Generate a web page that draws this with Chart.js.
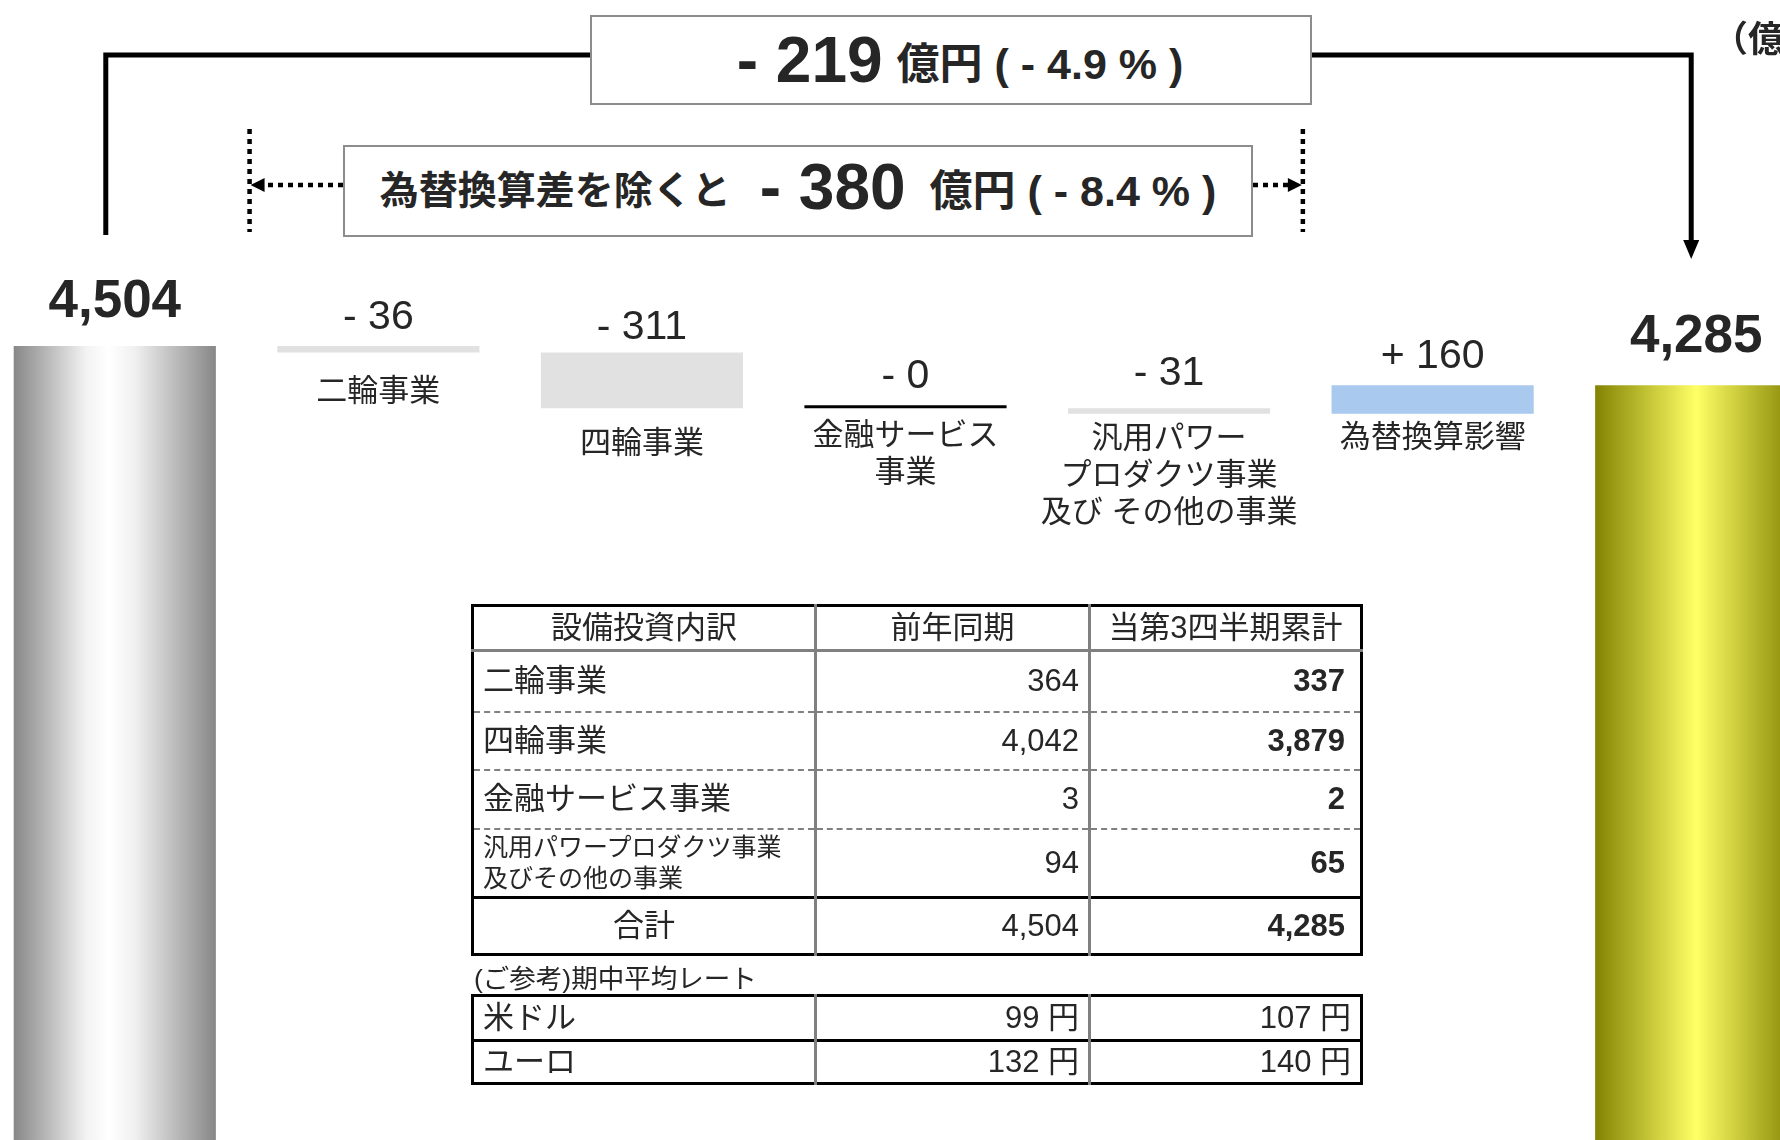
<!DOCTYPE html>
<html lang="ja">
<head>
<meta charset="utf-8">
<title>設備投資</title>
<script src="https://cdn.jsdelivr.net/npm/chart.js@4.4.1/dist/chart.umd.min.js"></script>
<style>
  html, body { margin: 0; padding: 0; background: #fff; width: 1780px; height: 1140px; overflow: hidden; }
  body { position: relative; font-family: "Liberation Sans", "Noto Sans CJK JP", sans-serif; color: #262626; }
  #wrap { position: absolute; left: -17px; top: 0; width: 1845px; height: 1140px; }
  .box { position: absolute; background: #fff; border: 2px solid #8c8c8c; box-sizing: border-box;
         display: flex; align-items: center; justify-content: center; font-weight: bold; white-space: nowrap; }
  .box .num { font-size: 64px; }
  .box .unit { font-size: 43px; }
  .box .lead { font-size: 39px; margin-right: 29px; }
  #box1 { left: 590px; top: 15px; width: 722px; height: 90px; padding-left: 18px; }
  #box1 .unit { margin-left: 14px; }
  #box2 { left: 343px; top: 145px; width: 910px; height: 92px; padding-bottom: 8px; }
  #box2 .unit { margin-left: 24px; }
  #unitNote { position: absolute; left: 1712px; top: 10px; font-size: 36px; font-weight: bold; white-space: nowrap; }
  table { position: absolute; border-collapse: collapse; font-size: 31px; line-height: 1.15; table-layout: fixed; }
  td { padding: 0 9px; white-space: nowrap; vertical-align: middle; overflow: hidden; }
  #capex { left: 471px; top: 604px; width: 889px; border: 3px solid #000; }
  #capex tr.head td { text-align: center; border-bottom: 3px solid #808080; }
  #capex tr.row td { border-bottom: 2px dashed #808080; }
  #capex tr.total td { border-top: 3px solid #000; }
  #capex td + td, #rates td + td { border-left: 3px solid #808080; text-align: right; }
  #capex tr.head td + td { text-align: center; }
  #capex td.small { font-size: 25px; line-height: 31px; }
  #capex td.center { text-align: center; }
  #capex td.cur { font-weight: bold; padding-right: 15px; }
  #rateNote { position: absolute; left: 474px; top: 957px; font-size: 26.5px; white-space: nowrap; }
  #rates { left: 471px; top: 994px; width: 889px; border: 3px solid #000; }
  #rates tr + tr td { border-top: 3px solid #000; }
</style>
</head>
<body>
<div id="wrap"><canvas id="waterfall" width="1845" height="1140"></canvas></div>
<div class="box" id="box1"></div>
<div class="box" id="box2"></div>
<div id="unitNote">（億円）</div>
<div id="rateNote">(ご参考)期中平均レート</div>
<table id="capex"></table>
<table id="rates"></table>
<script>
// waterfall data (億円)
var categories = ['前年同期', '二輪事業', '四輪事業', '金融サービス\n事業', '汎用パワー\nプロダクツ事業\n及び その他の事業', '為替換算影響', '当第3四半期累計'];
var startTotal = 4504;
var endTotal = 4285;
var deltaValues = [-36, -311, -0, -31, 160];
var deltaColors = ['#e1e1e1', '#e1e1e1', '#000000', '#e1e1e1', '#a9c9ee'];
// label spacing from the bar edges (px)
var valueGaps = [17, 13, 17, 23, 17];
var nameGaps = [40, 36, 28, 26, 25];

// headline numbers
var diffTotal = -219;
var diffPct = -4.9;
var diffExFx = -380;
var diffExFxPct = -8.4;

// capex table
var tableHeader = ['設備投資内訳', '前年同期', '当第3四半期累計'];
var segments = ['二輪事業', '四輪事業', '金融サービス事業', '汎用パワープロダクツ事業\n及びその他の事業'];
var prevCapex = [364, 4042, 3, 94];
var currCapex = [337, 3879, 2, 65];
var capexTotals = [4504, 4285];
var rowHeights = [61, 58, 59, 69];

// average rates
var currencies = ['米ドル', 'ユーロ'];
var prevRates = [99, 132];
var currRates = [107, 140];

var barPct = 0.767;
var SHIFT = 17; // canvas is shifted left by this much
var prevGradient = [[0, '#878787'], [0.36, '#f3f3f3'], [0.47, '#ffffff'], [0.6, '#f0f0f0'], [1, '#878787']];
var currGradient = [[0, '#838303'], [0.5, '#ffff66'], [1, '#838303']];

function fmt(n) { return n.toLocaleString('en-US'); }
function signed(n) {
    return (n > 0 ? '+ ' : '- ') + Math.abs(n);
}

// floating spans for the waterfall
var spans = [[0, startTotal]];
var run = startTotal;
deltaValues.forEach(function(d) {
    spans.push([Math.min(run, run + d), Math.max(run, run + d)]);
    run += d;
});
spans.push([0, endTotal]);

function barColor(ctx) {
    var i = ctx.dataIndex;
    if (i > 0 && i < categories.length - 1) return deltaColors[i - 1];
    var chart = ctx.chart;
    if (!chart.chartArea) return '#999';
    var xs = chart.scales.x;
    var cx = xs.getPixelForValue(i);
    var half = xs.width / categories.length * barPct / 2;
    var g = chart.ctx.createLinearGradient(cx - half, 0, cx + half, 0);
    (i === 0 ? prevGradient : currGradient).forEach(function(s) { g.addColorStop(s[0], s[1]); });
    return g;
}

var labelPlugin = {
    id: 'waterfallLabels',
    afterDatasetsDraw: function(chart) {
        var c = chart.ctx;
        var bars = chart.getDatasetMeta(0).data;
        c.save();
        c.fillStyle = '#262626';
        c.textAlign = 'center';
        c.textBaseline = 'alphabetic';
        bars.forEach(function(bar, i) {
            var top = Math.min(bar.y, bar.base);
            var bottom = Math.max(bar.y, bar.base);
            if (i === 0 || i === bars.length - 1) {
                c.font = 'bold 53px "Liberation Sans", sans-serif';
                c.fillText(fmt(i === 0 ? startTotal : endTotal), bar.x, top - (i === 0 ? 29 : 33));
                return;
            }
            c.font = '41px "Liberation Sans", sans-serif';
            c.fillText(signed(deltaValues[i - 1]), bar.x, top - valueGaps[i - 1]);
            c.font = '31px "Liberation Sans", "Noto Sans CJK JP", sans-serif';
            c.textBaseline = 'middle';
            categories[i].split('\n').forEach(function(line, k) {
                c.fillText(line, bar.x, bottom + nameGaps[i - 1] + k * 37);
            });
            c.textBaseline = 'alphabetic';
        });
        c.restore();
    }
};

var bracketPlugin = {
    id: 'brackets',
    beforeDatasetsDraw: function(chart) {
        var c = chart.ctx;
        var bars = chart.getDatasetMeta(0).data;
        var n = bars.length;
        var lx = bars[0].x - 9, rx = bars[n - 1].x - 5;
        c.save();
        c.strokeStyle = '#000';
        c.fillStyle = '#000';
        // total change bracket
        c.lineWidth = 5;
        c.lineJoin = 'miter';
        c.beginPath();
        c.moveTo(lx, 235);
        c.lineTo(lx, 55);
        c.lineTo(rx, 55);
        c.lineTo(rx, 242);
        c.stroke();
        c.beginPath();
        c.moveTo(rx - 8, 240);
        c.lineTo(rx + 8, 240);
        c.lineTo(rx, 259);
        c.closePath();
        c.fill();
        // dotted bracket without FX translation
        var dl = (bars[0].x + bars[1].x) / 2 + 3;
        var dr = (bars[4].x + bars[5].x) / 2 + 2;
        c.lineWidth = 4.5;
        c.setLineDash([5, 5]);
        c.beginPath();
        c.moveTo(dl, 129); c.lineTo(dl, 232);
        c.moveTo(dr, 129); c.lineTo(dr, 232);
        c.moveTo(343 + SHIFT, 185); c.lineTo(dl + 12, 185);
        c.moveTo(1253 + SHIFT, 185); c.lineTo(dr - 12, 185);
        c.stroke();
        c.setLineDash([]);
        c.beginPath();
        c.moveTo(dl + 1, 185); c.lineTo(dl + 15, 178); c.lineTo(dl + 15, 192); c.closePath();
        c.moveTo(dr - 1, 185); c.lineTo(dr - 15, 178); c.lineTo(dr - 15, 192); c.closePath();
        c.fill();
        c.restore();
    }
};

new Chart(document.getElementById('waterfall'), {
    type: 'bar',
    data: {
        labels: categories,
        datasets: [{
            data: spans,
            backgroundColor: barColor,
            borderWidth: 0,
            minBarLength: 3,
            barPercentage: barPct,
            categoryPercentage: 1
        }]
    },
    options: {
        responsive: false,
        animation: false,
        events: [],
        layout: { padding: 0 },
        plugins: { legend: { display: false }, tooltip: { enabled: false } },
        scales: {
            x: { display: false, offset: true },
            y: { display: false, min: 80, max: 6432 }
        }
    },
    plugins: [bracketPlugin, labelPlugin]
});

// headline boxes
document.getElementById('box1').innerHTML =
    '<span class="num">' + signed(diffTotal) + '</span><span class="unit">億円 ( ' + signed(diffPct) + ' % )</span>';
document.getElementById('box2').innerHTML =
    '<span class="lead">為替換算差を除くと</span><span class="num">' + signed(diffExFx) + '</span><span class="unit">億円 ( ' + signed(diffExFxPct) + ' % )</span>';

// capex table
function cell(tr, html, cls) {
    var td = document.createElement('td');
    td.innerHTML = html;
    if (cls) td.className = cls;
    tr.appendChild(td);
    return td;
}
var capex = document.getElementById('capex');
var cg = document.createElement('colgroup');
[343, 274, 272].forEach(function(w) { var col = document.createElement('col'); col.style.width = w + 'px'; cg.appendChild(col); });
capex.appendChild(cg);
var tr = document.createElement('tr');
tr.className = 'head';
tr.style.height = '45px';
tableHeader.forEach(function(h) { cell(tr, h); });
capex.appendChild(tr);
segments.forEach(function(s, i) {
    var r = document.createElement('tr');
    r.className = i < segments.length - 1 ? 'row' : 'last';
    r.style.height = rowHeights[i] + 'px';
    cell(r, s.replace('\n', '<br>'), s.indexOf('\n') >= 0 ? 'small' : '');
    cell(r, fmt(prevCapex[i]));
    cell(r, fmt(currCapex[i]), 'cur');
    capex.appendChild(r);
});
tr = document.createElement('tr');
tr.className = 'total';
tr.style.height = '57px';
cell(tr, '合計', 'center');
cell(tr, fmt(capexTotals[0]));
cell(tr, fmt(capexTotals[1]), 'cur');
capex.appendChild(tr);

// rate table
var rates = document.getElementById('rates');
var cg2 = cg.cloneNode(true);
rates.appendChild(cg2);
currencies.forEach(function(cur, i) {
    var r = document.createElement('tr');
    r.style.height = (i === 0 ? 45 : 43) + 'px';
    cell(r, cur);
    cell(r, prevRates[i] + ' 円');
    cell(r, currRates[i] + ' 円');
    rates.appendChild(r);
});
</script>
</body>
</html>
